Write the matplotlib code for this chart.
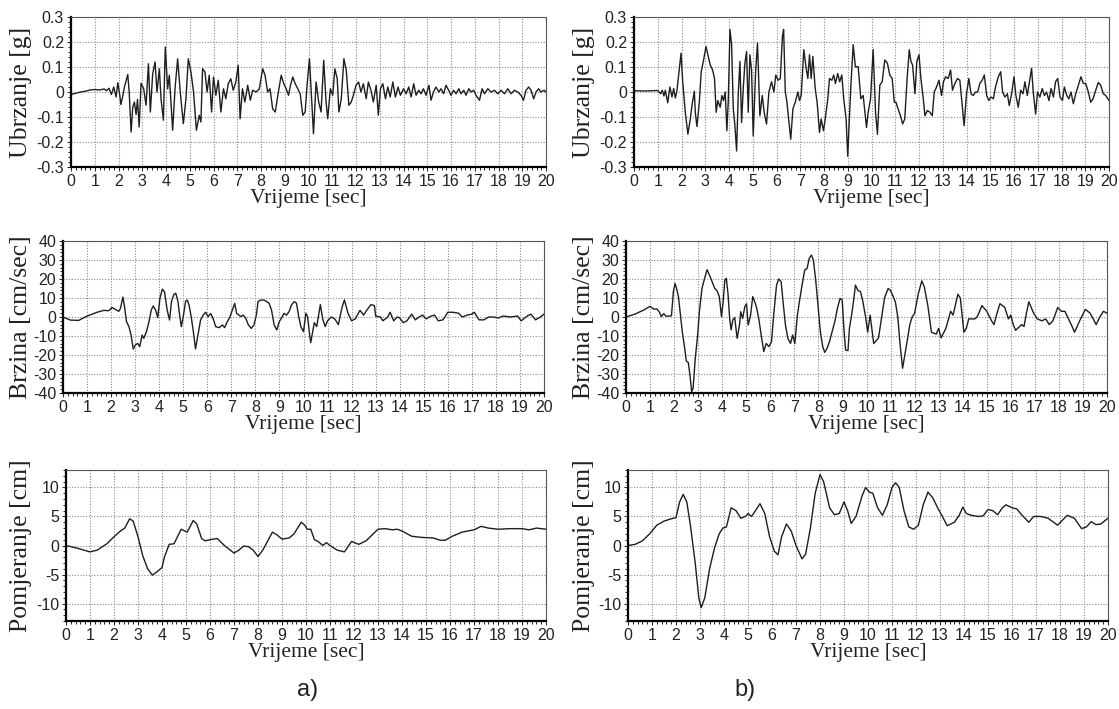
import matplotlib
matplotlib.use('Agg')
import matplotlib.pyplot as plt
from matplotlib.ticker import MultipleLocator

plt.rcParams['font.family'] = ['Liberation Sans', 'DejaVu Sans']
plt.rcParams['axes.unicode_minus'] = False

# ---- a) acceleration [g]
t_acc_a = [0.0, 0.2, 0.4, 0.6, 0.8, 1.0, 1.2, 1.4, 1.5, 1.6, 1.7, 1.8, 1.9, 1.97, 2.05, 2.1, 2.17, 2.25,
           2.39, 2.45, 2.53, 2.6, 2.67, 2.74, 2.8, 2.87, 2.95, 3.06, 3.16, 3.26, 3.34, 3.44, 3.54, 3.62,
           3.72, 3.79, 3.89, 3.97, 4.07, 4.14, 4.28, 4.38, 4.49, 4.6, 4.73, 4.84, 4.94, 5.05, 5.16, 5.28,
           5.4, 5.47, 5.54, 5.64, 5.73, 5.82, 5.92, 6.0, 6.1, 6.2, 6.31, 6.42, 6.52, 6.62, 6.73, 6.83,
           6.94, 7.04, 7.12, 7.22, 7.32, 7.44, 7.55, 7.65, 7.79, 7.93, 8.07, 8.17, 8.28, 8.38, 8.49, 8.6,
           8.71, 8.85, 8.96, 9.06, 9.16, 9.24, 9.34, 9.44, 9.55, 9.65, 9.76, 9.86, 9.94, 10.04, 10.13,
           10.21, 10.32, 10.43, 10.53, 10.64, 10.74, 10.81, 10.92, 11.02, 11.11, 11.21, 11.28, 11.38,
           11.49, 11.59, 11.7, 11.8, 11.89, 12.0, 12.11, 12.21, 12.31, 12.43, 12.52, 12.63, 12.73, 12.85,
           12.94, 13.03, 13.13, 13.24, 13.34, 13.44, 13.55, 13.66, 13.77, 13.87, 14.0, 14.11, 14.22,
           14.32, 14.43, 14.53, 14.64, 14.74, 14.84, 14.95, 15.07, 15.16, 15.26, 15.37, 15.49, 15.58,
           15.69, 15.79, 15.9, 16.0, 16.11, 16.21, 16.33, 16.42, 16.54, 16.63, 16.75, 16.84, 16.96, 17.05,
           17.2, 17.31, 17.41, 17.55, 17.69, 17.83, 17.97, 18.11, 18.25, 18.39, 18.53, 18.67, 18.81,
           18.95, 19.05, 19.16, 19.27, 19.37, 19.48, 19.58, 19.69, 19.78, 19.92, 20.0]
acc_a = [-0.01, -0.005, 0.0, 0.003, 0.008, 0.01, 0.008, 0.012, 0.005, 0.015, -0.01, 0.02, -0.02, 0.037,
         -0.01, -0.05, -0.02, 0.02, 0.07, 0.0, -0.16, -0.06, -0.04, -0.09, -0.03, -0.14, 0.035, 0.013,
         -0.053, 0.113, -0.08, 0.073, 0.12, 0.0, 0.093, -0.027, -0.113, 0.18, 0.013, 0.067, -0.153, 0.013,
         0.133, 0.0, -0.127, -0.027, 0.133, 0.08, 0.0, -0.153, -0.093, -0.12, 0.093, 0.08, 0.0, 0.067,
         -0.08, 0.06, -0.013, 0.047, -0.08, 0.013, -0.027, 0.033, 0.053, 0.007, 0.04, 0.107, -0.107,
         0.013, -0.04, 0.027, -0.033, 0.007, 0.0, 0.013, 0.093, 0.067, 0.0, 0.013, -0.067, -0.08, -0.013,
         0.067, 0.033, 0.013, -0.013, 0.027, 0.06, 0.033, 0.013, -0.007, -0.093, -0.08, 0.027, 0.133,
         -0.027, -0.167, 0.04, -0.04, -0.08, 0.127, -0.04, -0.107, 0.013, -0.013, 0.093, 0.053, -0.08,
         -0.027, 0.133, 0.087, -0.053, -0.04, -0.013, 0.027, 0.04, 0.0, 0.033, -0.027, 0.04, 0.007, -0.04,
         0.027, -0.093, 0.013, 0.033, -0.027, 0.02, -0.02, 0.04, -0.02, 0.02, -0.013, 0.013, -0.007, 0.02,
         -0.02, 0.033, -0.013, 0.007, -0.007, 0.013, -0.013, 0.027, -0.033, 0.0, 0.02, 0.0, 0.013, -0.007,
         0.027, 0.007, -0.013, 0.007, -0.007, 0.013, -0.007, 0.007, -0.013, 0.013, 0.0, 0.007, -0.013,
         -0.033, 0.013, -0.007, 0.013, 0.0, 0.007, -0.007, 0.007, -0.007, 0.013, -0.007, 0.007, 0.0,
         -0.013, -0.033, 0.007, 0.02, 0.007, -0.027, 0.0, 0.013, 0.0, 0.007, 0.0]

# ---- b) acceleration [g]
t_acc_b = [0.0, 0.5, 1.0, 1.12, 1.19, 1.26, 1.32, 1.42, 1.51, 1.6, 1.67, 1.74, 1.81, 1.88, 1.98, 2.05,
           2.16, 2.27, 2.37, 2.44, 2.54, 2.58, 2.65, 2.75, 2.83, 2.93, 3.03, 3.11, 3.21, 3.31, 3.39, 3.46,
           3.53, 3.63, 3.7, 3.77, 3.84, 3.91, 3.97, 4.04, 4.11, 4.18, 4.25, 4.32, 4.39, 4.46, 4.53, 4.6,
           4.67, 4.74, 4.81, 4.88, 4.95, 5.02, 5.12, 5.2, 5.3, 5.4, 5.48, 5.58, 5.68, 5.79, 5.89, 5.97,
           6.07, 6.16, 6.25, 6.3, 6.37, 6.44, 6.51, 6.6, 6.69, 6.79, 6.9, 6.97, 7.04, 7.15, 7.25, 7.32,
           7.39, 7.46, 7.53, 7.63, 7.71, 7.81, 7.88, 7.98, 8.07, 8.16, 8.23, 8.33, 8.41, 8.48, 8.58, 8.66,
           8.75, 8.83, 8.93, 9.0, 9.07, 9.14, 9.23, 9.32, 9.44, 9.55, 9.65, 9.79, 9.86, 9.96, 10.07,
           10.17, 10.25, 10.35, 10.45, 10.56, 10.67, 10.77, 10.87, 10.96, 11.03, 11.12, 11.22, 11.31,
           11.4, 11.5, 11.59, 11.66, 11.73, 11.83, 11.91, 12.0, 12.08, 12.18, 12.25, 12.35, 12.46, 12.56,
           12.64, 12.74, 12.84, 12.95, 13.03, 13.12, 13.23, 13.33, 13.41, 13.51, 13.62, 13.72, 13.82,
           13.9, 14.0, 14.1, 14.19, 14.28, 14.38, 14.47, 14.56, 14.66, 14.75, 14.85, 14.94, 15.03, 15.13,
           15.22, 15.34, 15.44, 15.52, 15.62, 15.72, 15.8, 15.9, 16.0, 16.08, 16.18, 16.28, 16.38, 16.46,
           16.56, 16.64, 16.74, 16.81, 16.91, 16.99, 17.09, 17.19, 17.28, 17.37, 17.47, 17.56, 17.66,
           17.75, 17.84, 17.94, 18.04, 18.12, 18.22, 18.31, 18.4, 18.5, 18.6, 18.71, 18.82, 18.92, 19.02,
           19.13, 19.23, 19.33, 19.44, 19.55, 19.65, 19.76, 19.86, 20.0]
acc_b = [0.005, 0.004, 0.006, -0.007, 0.007, -0.016, 0.007, -0.043, 0.02, -0.02, 0.014, -0.024, 0.007,
         0.068, 0.155, 0.041, -0.081, -0.169, -0.108, -0.054, 0.003, -0.081, -0.138, -0.041, 0.081,
         0.128, 0.182, 0.149, 0.108, 0.088, 0.054, -0.081, -0.034, -0.061, -0.014, -0.034, 0.0, -0.155,
         -0.034, 0.25, 0.189, -0.068, -0.135, -0.236, -0.007, 0.122, -0.122, 0.014, 0.115, 0.162, -0.081,
         0.149, 0.088, -0.176, 0.081, 0.196, -0.095, -0.014, -0.081, -0.128, 0.0, 0.041, 0.0, 0.068,
         0.047, 0.054, 0.223, 0.25, 0.0, -0.041, -0.108, -0.189, -0.068, -0.041, 0.0, -0.034, -0.014,
         0.169, 0.095, 0.054, 0.149, 0.054, 0.142, 0.014, -0.041, -0.162, -0.108, -0.155, -0.095, -0.027,
         0.054, 0.047, 0.068, 0.034, 0.074, 0.041, 0.068, -0.027, -0.108, -0.257, -0.101, 0.041, 0.189,
         0.101, 0.101, -0.027, -0.014, -0.142, -0.081, -0.027, 0.169, -0.081, -0.169, 0.027, 0.041,
         0.128, 0.115, 0.068, 0.054, -0.041, -0.041, -0.068, -0.095, -0.128, -0.108, 0.054, 0.169, 0.122,
         0.108, -0.007, 0.122, 0.149, 0.054, -0.027, -0.095, -0.074, -0.081, -0.095, 0.0, 0.02, 0.047,
         -0.014, 0.041, 0.061, 0.054, 0.088, 0.007, 0.034, 0.054, 0.047, -0.054, -0.135, -0.007, 0.054,
         -0.007, -0.014, 0.0, 0.0, 0.034, 0.047, 0.068, -0.014, -0.034, -0.02, -0.027, 0.02, 0.061,
         0.081, 0.0, -0.02, -0.007, -0.054, -0.007, 0.061, -0.014, -0.061, 0.007, -0.007, 0.041, -0.014,
         0.034, 0.095, 0.0, -0.088, 0.0, -0.02, 0.014, -0.014, 0.0, -0.034, 0.014, -0.02, 0.041, 0.054,
         -0.02, -0.034, 0.02, -0.014, -0.027, 0.0, -0.047, -0.007, 0.027, 0.061, 0.034, 0.034, 0.0,
         -0.041, -0.027, 0.007, 0.038, 0.027, -0.007, -0.014, -0.034]

# ---- a) velocity [cm/sec]
t_vel_a = [0.0, 0.3, 0.65, 1.0, 1.42, 1.7, 1.9, 2.04, 2.18, 2.32, 2.39, 2.49, 2.57, 2.64, 2.74, 2.83,
           2.92, 3.01, 3.11, 3.19, 3.29, 3.36, 3.47, 3.57, 3.67, 3.75, 3.85, 3.94, 4.03, 4.13, 4.22, 4.33,
           4.43, 4.51, 4.61, 4.69, 4.78, 4.85, 4.92, 5.0, 5.1, 5.17, 5.24, 5.33, 5.42, 5.51, 5.61, 5.72,
           5.83, 5.93, 6.03, 6.14, 6.24, 6.35, 6.49, 6.63, 6.72, 6.83, 6.93, 7.04, 7.14, 7.22, 7.32, 7.39,
           7.49, 7.6, 7.71, 7.83, 7.94, 8.04, 8.11, 8.22, 8.36, 8.47, 8.57, 8.67, 8.78, 8.89, 8.99, 9.08,
           9.19, 9.29, 9.4, 9.5, 9.61, 9.71, 9.79, 9.89, 10.0, 10.1, 10.17, 10.24, 10.3, 10.45, 10.55,
           10.7, 10.8, 10.9, 11.0, 11.15, 11.3, 11.45, 11.6, 11.7, 11.85, 12.0, 12.15, 12.35, 12.5, 12.6,
           12.8, 12.95, 13.0, 13.2, 13.3, 13.5, 13.6, 13.75, 13.9, 14.0, 14.15, 14.3, 14.5, 14.65, 14.8,
           14.95, 15.1, 15.3, 15.45, 15.6, 15.8, 16.0, 16.2, 16.45, 16.6, 16.8, 17.0, 17.1, 17.3, 17.5,
           17.7, 17.9, 18.1, 18.3, 18.6, 18.9, 19.05, 19.3, 19.45, 19.65, 19.85, 20.0]
vel_a = [0.0, -1.6, -1.8, 0.5, 2.5, 3.5, 3.3, 5.0, 4.0, 3.0, 4.5, 10.5, 4.5, -2.5, -5.0, -9.5, -16.8,
         -14.7, -13.9, -15.6, -9.5, -11.2, -7.7, -2.8, 3.7, 5.8, 3.7, -0.3, 9.8, 14.7, 13.3, 3.7, -1.6,
         8.1, 11.9, 12.5, 8.1, 1.0, -5.1, 0.2, 8.4, 8.9, 6.3, 0.2, -7.7, -16.8, -9.5, -1.6, 1.0, 2.5, 0.2,
         1.8, -0.7, -5.1, -5.6, -4.2, -5.6, -2.5, -0.3, 3.7, 7.2, 1.9, 1.0, 0.2, 1.0, -0.7, -4.2, -6.0,
         -4.2, 1.0, 8.1, 8.9, 8.9, 8.1, 7.2, 3.7, -4.2, -6.8, -2.5, -0.7, 1.9, 1.0, 2.8, 6.3, 8.1, 7.2,
         1.0, -5.1, -7.7, 2.0, 0.2, -7.7, -13.5, -3.0, -5.0, 6.5, -1.0, -5.0, -2.0, 0.0, -1.0, -4.0, 5.0,
         9.0, 2.0, -2.0, -1.0, 3.5, 1.0, 3.0, 6.5, 6.0, 0.5, 0.0, -2.0, 0.0, 2.5, -2.0, 0.0, -0.5, -3.0,
         -2.0, 1.5, -1.5, 0.0, 1.0, -1.0, 0.5, 1.0, -2.0, -1.5, 2.5, 2.5, 2.0, 0.0, 1.0, 1.5, 2.5, -1.5,
         -1.5, 0.0, 0.0, -0.5, 0.5, 0.0, 0.5, -2.0, 0.5, 1.5, -1.5, 0.0, 1.5]

# ---- b) velocity [cm/sec]
t_vel_b = [0.0, 0.39, 0.74, 1.0, 1.15, 1.29, 1.39, 1.47, 1.57, 1.66, 1.78, 1.89, 1.97, 2.04, 2.1, 2.18,
           2.27, 2.34, 2.44, 2.51, 2.59, 2.66, 2.73, 2.79, 2.88, 2.98, 3.05, 3.16, 3.27, 3.37, 3.47, 3.58,
           3.69, 3.79, 3.88, 3.97, 4.04, 4.11, 4.17, 4.24, 4.31, 4.37, 4.44, 4.52, 4.62, 4.72, 4.77, 4.85,
           4.94, 5.01, 5.08, 5.18, 5.27, 5.35, 5.42, 5.52, 5.62, 5.73, 5.83, 5.94, 6.05, 6.14, 6.26, 6.35,
           6.45, 6.53, 6.63, 6.73, 6.84, 6.93, 7.02, 7.12, 7.21, 7.32, 7.43, 7.53, 7.62, 7.71, 7.79, 7.88,
           7.97, 8.08, 8.18, 8.26, 8.36, 8.46, 8.57, 8.68, 8.79, 8.9, 8.99, 9.06, 9.13, 9.23, 9.29, 9.38,
           9.46, 9.54, 9.64, 9.75, 9.85, 9.96, 10.05, 10.15, 10.3, 10.5, 10.75, 10.9, 11.0, 11.2, 11.3,
           11.4, 11.5, 11.7, 11.8, 11.9, 12.0, 12.15, 12.3, 12.4, 12.55, 12.7, 12.9, 13.0, 13.1, 13.3,
           13.5, 13.6, 13.8, 13.9, 14.05, 14.15, 14.25, 14.5, 14.6, 14.8, 15.0, 15.2, 15.3, 15.45, 15.55,
           15.75, 15.9, 16.0, 16.1, 16.2, 16.45, 16.55, 16.65, 16.75, 16.95, 17.1, 17.3, 17.45, 17.6,
           17.75, 17.95, 18.1, 18.25, 18.4, 18.55, 18.65, 18.9, 19.1, 19.3, 19.55, 19.7, 19.85, 20.0]
vel_b = [0.0, 1.6, 3.7, 5.6, 4.2, 4.2, 2.5, 0.2, 1.8, 0.4, 0.5, 0.7, 13.3, 17.7, 15.1, 10.7, 0.2, -7.7,
         -16.5, -23.2, -23.9, -30.5, -39.3, -37.5, -21.8, -9.5, 2.8, 15.1, 20.4, 24.9, 22.1, 18.6, 15.1,
         13.7, 10.7, 0.2, 8.1, 19.5, 20.4, 12.5, -0.7, -6.8, -1.6, -0.3, -11.2, -4.2, 2.8, -0.7, 5.4, 7.0,
         -4.2, 1.0, 10.7, 8.1, 5.4, -0.7, -9.5, -18.2, -13.9, -15.6, -13.0, 1.0, 16.8, 20.0, 18.6, 8.1,
         -4.2, -11.2, -13.9, -9.5, -14.0, 0.2, 8.1, 16.8, 24.7, 25.6, 30.9, 32.6, 30.0, 20.4, 8.1, -7.7,
         -15.6, -18.6, -16.5, -13.0, -7.7, -2.5, 4.5, 9.8, 8.9, -6.0, -17.4, -17.7, -6.0, 1.0, 8.1, 16.8,
         14.0, 13.3, 8.1, 0.2, -8.0, 1.0, -14.0, -11.0, 10.0, 15.0, 14.0, 8.0, 0.0, -15.0, -27.0, -12.0,
         -4.0, 0.0, 2.0, 12.0, 19.0, 16.0, 6.0, -8.0, -9.0, -6.0, -11.0, -6.0, 3.0, 1.0, 12.0, 10.0, -8.0,
         -6.0, -1.0, -1.0, 0.0, 6.0, 3.0, -2.0, -4.0, 3.0, 7.0, 5.0, -1.0, 1.0, -4.0, -7.0, -4.0, -5.0,
         2.0, 8.0, 2.0, -1.0, -2.0, -1.0, -4.0, -2.0, 5.0, 3.0, 3.0, -1.0, -5.0, -8.0, -1.0, 4.0, 2.0,
         -4.0, 0.0, 3.0, 2.0]

# ---- a) displacement [cm]
t_dis_a = [0.0, 0.5, 1.0, 1.3, 1.7, 2.0, 2.3, 2.45, 2.65, 2.8, 3.0, 3.2, 3.4, 3.6, 3.8, 4.0, 4.1, 4.3,
           4.5, 4.8, 4.95, 5.05, 5.3, 5.45, 5.65, 5.8, 6.0, 6.3, 6.6, 7.0, 7.2, 7.4, 7.6, 7.8, 8.0, 8.2,
           8.6, 8.8, 9.0, 9.3, 9.5, 9.8, 9.95, 10.05, 10.2, 10.35, 10.5, 10.7, 10.85, 11.0, 11.3, 11.6,
           11.9, 12.2, 12.5, 12.8, 13.0, 13.3, 13.6, 13.8, 14.0, 14.4, 14.8, 15.3, 15.6, 15.8, 16.1, 16.5,
           17.0, 17.3, 17.6, 18.0, 18.5, 19.0, 19.3, 19.6, 20.0]
dis_a = [0.0, -0.5, -1.1, -0.8, 0.3, 1.5, 2.6, 3.0, 4.6, 4.2, 1.5, -1.8, -4.0, -5.1, -4.5, -3.8, -2.0,
         0.2, 0.3, 2.8, 2.5, 2.3, 4.3, 3.7, 1.2, 0.8, 1.0, 1.2, 0.0, -1.3, -0.8, -0.1, -0.2, -0.8, -1.9,
         -0.8, 2.3, 1.8, 1.1, 1.3, 2.0, 4.0, 3.5, 2.8, 2.8, 1.0, 0.7, 0.0, 0.5, 0.0, -0.8, -1.1, 0.7, 0.2,
         0.8, 2.0, 2.8, 2.9, 2.7, 2.8, 2.5, 1.6, 1.4, 1.3, 0.9, 0.9, 1.6, 2.3, 2.7, 3.3, 3.0, 2.8, 2.9,
         2.9, 2.7, 3.0, 2.8]

# ---- b) displacement [cm]
t_dis_b = [0.0, 0.3, 0.6, 0.9, 1.2, 1.5, 1.8, 2.0, 2.15, 2.3, 2.45, 2.6, 2.8, 2.95, 3.05, 3.2, 3.4, 3.6,
           3.8, 3.95, 4.1, 4.3, 4.5, 4.7, 4.9, 5.0, 5.15, 5.5, 5.7, 5.9, 6.1, 6.25, 6.4, 6.6, 6.8, 7.0,
           7.25, 7.4, 7.6, 7.8, 8.0, 8.15, 8.4, 8.6, 8.8, 9.0, 9.15, 9.3, 9.5, 9.75, 9.9, 10.05, 10.2,
           10.4, 10.6, 10.8, 11.0, 11.15, 11.3, 11.5, 11.7, 11.9, 12.1, 12.3, 12.5, 12.7, 12.9, 13.1,
           13.3, 13.6, 13.8, 13.95, 14.1, 14.3, 14.6, 14.8, 15.0, 15.2, 15.4, 15.6, 15.75, 16.0, 16.2,
           16.4, 16.7, 16.9, 17.2, 17.5, 17.9, 18.3, 18.6, 18.9, 19.1, 19.3, 19.5, 19.7, 20.0]
dis_b = [0.0, 0.2, 0.8, 2.0, 3.5, 4.2, 4.6, 4.8, 7.5, 8.8, 7.5, 3.5, -3.0, -9.0, -10.7, -9.0, -4.0, -0.5,
         2.0, 3.0, 3.2, 6.5, 6.0, 4.7, 5.0, 5.5, 5.0, 7.2, 5.5, 1.5, -1.0, -1.6, 1.5, 3.7, 2.5, 0.0, -2.3,
         -1.5, 3.0, 9.0, 12.2, 11.0, 6.5, 5.3, 5.5, 7.5, 6.0, 3.8, 5.0, 8.5, 10.0, 9.2, 9.0, 6.5, 5.2,
         7.0, 10.0, 10.8, 10.0, 6.0, 3.2, 2.8, 3.5, 7.0, 9.2, 8.2, 6.5, 5.0, 3.4, 4.0, 5.2, 6.6, 5.5, 5.2,
         5.0, 5.1, 6.2, 6.0, 5.3, 6.5, 7.0, 6.5, 6.3, 5.3, 4.0, 5.0, 5.0, 4.7, 3.5, 5.2, 4.7, 2.9, 3.2,
         4.1, 3.6, 3.7, 4.7]

acc_ticks = [-0.3, -0.2, -0.1, 0, 0.1, 0.2, 0.3]
acc_labels = ['-0.3', '-0.2', '-0.1', '0', '0.1', '0.2', '0.3']
vel_ticks = [-40, -30, -20, -10, 0, 10, 20, 30, 40]
dis_ticks = [-10, -5, 0, 5, 10]

W, H = 1119, 709
fig = plt.figure(figsize=(W / 100, H / 100), dpi=100)

# pixel boxes: left, right, top, bottom
boxes = [[(71, 546, 17, 167), (634, 1109, 17, 167)],
         [(63, 544, 241, 393), (626, 1107, 241, 393)],
         [(66, 546, 470, 621), (628, 1108, 470, 621)]]
ylab_x = [21, 584]

rows = [
    ('Ubrzanje [g]', (-0.3, 0.3), acc_ticks, acc_labels, 0.02, [(t_acc_a, acc_a), (t_acc_b, acc_b)]),
    ('Brzina [cm/sec]', (-40, 40), vel_ticks, [str(v) for v in vel_ticks], 2, [(t_vel_a, vel_a), (t_vel_b, vel_b)]),
    ('Pomjeranje [cm]', (-13, 13), dis_ticks, [str(v) for v in dis_ticks], 1, [(t_dis_a, dis_a), (t_dis_b, dis_b)]),
]

for r, (ylab, ylim, yt, ytl, ymin, series) in enumerate(rows):
    for c in range(2):
        l, rr, t, b = boxes[r][c]
        ax = fig.add_axes([l / W, 1 - b / H, (rr - l) / W, (b - t) / H])
        tt, vv = series[c]
        ax.plot(tt, vv, color='#1e1e1e', lw=1.0)
        ax.set_xlim(0, 20)
        ax.set_ylim(*ylim)
        ax.set_xticks(range(21))
        ax.xaxis.set_minor_locator(MultipleLocator(0.2))
        ax.set_yticks(yt)
        ax.set_yticklabels(ytl)
        ax.yaxis.set_minor_locator(MultipleLocator(ymin))
        ax.grid(True, which='major', color='#8a8a8a', ls=(0, (1, 1.5)), lw=0.8)
        ax.tick_params(which='both', direction='out', labelsize=11.5, pad=2, width=0.7,
                       colors='#222222')
        ax.tick_params(which='major', length=3)
        ax.tick_params(which='minor', length=2)
        for s in ['left', 'bottom']:
            ax.spines[s].set_linewidth(1.6)
            ax.spines[s].set_color('black')
        for s in ['top', 'right']:
            ax.spines[s].set_linewidth(0.8)
            ax.spines[s].set_color('#555555')
        ax.set_xlabel('Vrijeme [sec]', fontfamily='Liberation Serif', fontsize=15.5, labelpad=0,
                      color='#222222')
        ax.set_ylabel(ylab, fontfamily='Liberation Serif', fontsize=18.5, va='center', color='#222222')
        ax.yaxis.set_label_coords((ylab_x[c] - l) / (rr - l), 0.5)

fig.text(308 / W, 1 - 690 / H, 'a)', ha='center', va='center', fontsize=17, color='#222222')
fig.text(745 / W, 1 - 690 / H, 'b)', ha='center', va='center', fontsize=17, color='#222222')

fig.savefig('out.png', dpi=100)
